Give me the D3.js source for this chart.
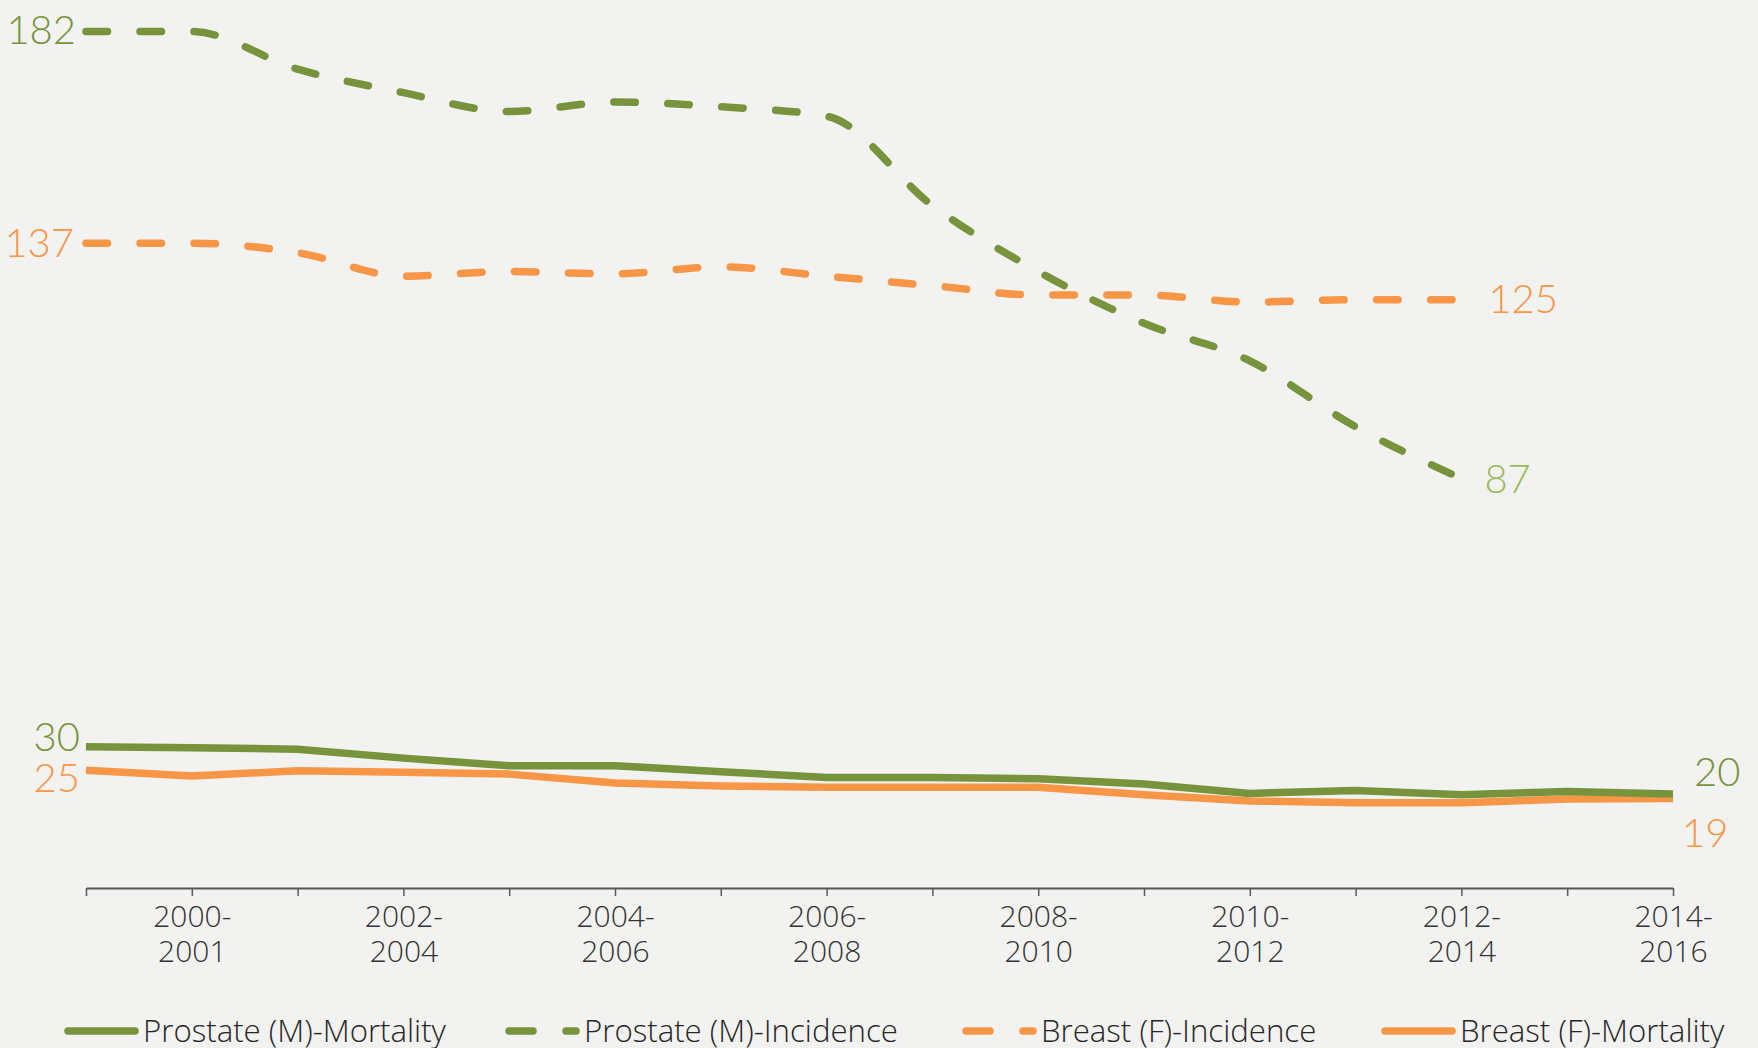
<!DOCTYPE html>
<html>
<head>
<meta charset="utf-8">
<script src="https://cdn.jsdelivr.net/npm/d3@7"></script>
<style>
  html, body { margin: 0; padding: 0; background: #f2f2f0; }
  svg { display: block; }
  .tick-label { font-family: "Open Sans", sans-serif; font-weight: 300; font-size: 30px; fill: #333333; }
  .value-label { font-family: "Lato", sans-serif; font-weight: 300; font-size: 40px; }
  .legend-text { font-family: "Open Sans", sans-serif; font-weight: 300; font-size: 31.2px; fill: #262626; }
</style>
</head>
<body>
<svg id="chart" width="1758" height="1048"></svg>
<script>
// Two-year period labels shown under every other tick (16 periods in total)
const tickLabels = ["2000-2001", "2002-2004", "2004-2006", "2006-2008",
                    "2008-2010", "2010-2012", "2012-2014", "2014-2016"];

// Rates per 100,000
const prostateIncidence = [182, 182, 174, 169, 165, 167, 166, 164, 145, 131, 120, 112, 98, 87];
const breastIncidence   = [137, 137, 135, 130, 131, 130.5, 132, 130, 128, 126, 126, 124.5, 125, 125];
const prostateMortality = [30, 29.8, 29.5, 27.6, 26, 26, 24.7, 23.5, 23.5, 23.2, 22.1, 20.1, 20.7, 19.8, 20.5, 20];
const breastMortality   = [25, 23.8, 24.9, 24.6, 24.2, 22.3, 21.7, 21.4, 21.4, 21.4, 19.8, 18.5, 18.1, 18.1, 18.9, 19];

const seriesNames = ["Prostate (M)-Mortality", "Prostate (M)-Incidence", "Breast (F)-Incidence", "Breast (F)-Mortality"];

const GREEN = "#77933c", GREEN_LIGHT = "#9bbb59", ORANGE = "#f79646";

const svg = d3.select("#chart");
const nPeriods = prostateMortality.length;

const x = d3.scaleLinear().domain([0, nPeriods - 1]).range([86, 1673]);
const y = d3.scaleLinear().domain([0, 182]).range([888, 31.5]);

// x axis: a tick per period, two-line label on every other one
const axis = svg.append("g").attr("transform", `translate(0,${y(0)})`)
  .call(d3.axisBottom(x).tickValues(d3.range(nPeriods)).tickSize(8).tickSizeOuter(0).tickFormat(() => ""));
axis.select(".domain").attr("stroke", "#595959").attr("stroke-width", 2);
axis.selectAll(".tick line").attr("stroke", "#595959").attr("stroke-width", 1.5);
axis.selectAll(".tick").each(function (i) {
  if (i % 2 !== 1) return;
  const parts = tickLabels[(i - 1) / 2].split("-");
  const t = d3.select(this).append("text").attr("class", "tick-label")
    .attr("text-anchor", "middle").attr("fill", null);
  t.append("tspan").attr("x", 0).attr("y", 39).text(parts[0] + "-");
  t.append("tspan").attr("x", 0).attr("y", 74).text(parts[1]);
});

const lineStraight = d3.line().x((d, i) => x(i)).y(d => y(d));
const lineSmooth = d3.line().x((d, i) => x(i)).y(d => y(d)).curve(d3.curveMonotoneX);

function drawLine(values, color, dashed) {
  svg.append("path")
    .attr("d", (dashed ? lineSmooth : lineStraight)(values))
    .attr("fill", "none")
    .attr("stroke", color)
    .attr("stroke-width", dashed ? 7.5 : 7.5)
    .attr("stroke-linejoin", "round")
    .attr("stroke-linecap", dashed ? "round" : "butt")
    .attr("stroke-dasharray", dashed ? "21.5 32.5" : null);
}

drawLine(prostateIncidence, GREEN, true);
drawLine(breastIncidence, ORANGE, true);
drawLine(breastMortality, ORANGE, false);
drawLine(prostateMortality, GREEN, false);

// End-point value labels
function valueLabel(values, idx, color, anchor, dx, dy) {
  svg.append("text").attr("class", "value-label")
    .attr("x", x(idx) + dx).attr("y", y(values[idx]) + dy)
    .attr("text-anchor", anchor).attr("fill", color)
    .text(d3.format("d")(values[idx]));
}
valueLabel(prostateIncidence, 0, GREEN, "end", -10, 12);
valueLabel(breastIncidence, 0, ORANGE, "end", -12, 14);
valueLabel(prostateMortality, 0, GREEN, "end", -6, 4);
valueLabel(breastMortality, 0, ORANGE, "end", -6, 22);
valueLabel(breastIncidence, prostateIncidence.length - 1, ORANGE, "start", 27, 13);
valueLabel(prostateIncidence, prostateIncidence.length - 1, GREEN_LIGHT, "start", 23, 14);
valueLabel(prostateMortality, nPeriods - 1, GREEN, "start", 21, -8);
valueLabel(breastMortality, nPeriods - 1, ORANGE, "start", 9, 48);

// Legend
const legendY = 1031;
const legendItems = [
  { name: seriesNames[0], color: GREEN, dashed: false, x0: 64 },
  { name: seriesNames[1], color: GREEN, dashed: true, x0: 505 },
  { name: seriesNames[2], color: ORANGE, dashed: true, x0: 962 },
  { name: seriesNames[3], color: ORANGE, dashed: false, x0: 1381 }
];
legendItems.forEach(it => {
  const g = svg.append("g");
  g.append("line").attr("x1", it.x0 + 4).attr("x2", it.x0 + 71)
    .attr("y1", legendY).attr("y2", legendY)
    .attr("stroke", it.color).attr("stroke-width", 7.5)
    .attr("stroke-linecap", "round")
    .attr("stroke-dasharray", it.dashed ? "24 33" : null);
  g.append("text").attr("class", "legend-text")
    .attr("x", it.x0 + 79).attr("y", legendY + 11).text(it.name);
});
</script>
</body>
</html>
